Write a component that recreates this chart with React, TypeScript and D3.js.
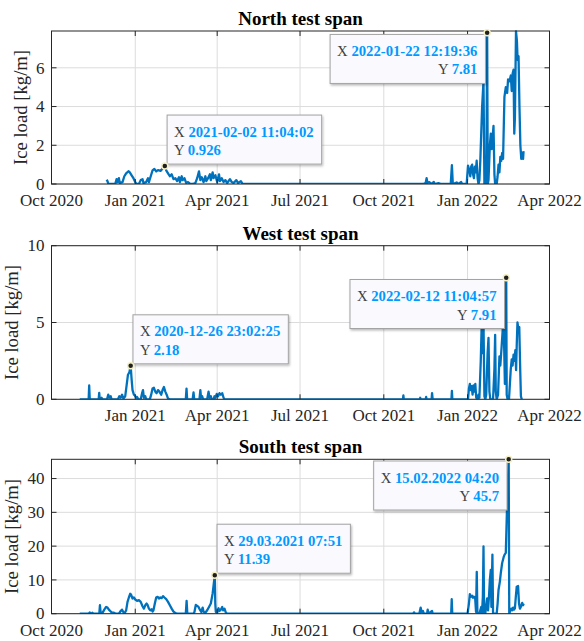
import React, { useEffect, useRef } from "react";
import * as d3 from "d3";

// Time axis: values are [days since 2020-10-01 00:00 UTC, ice load in kg/m]
const ORIGIN = "2020-10-01";
const X_DOMAIN = ["2020-10-01", "2022-04-01"];
const xTickDates = ["2020-10-01", "2021-01-01", "2021-04-01", "2021-07-01", "2021-10-01", "2022-01-01", "2022-04-01"];
const titles = ["North test span", "West test span", "South test span"];
const yAxisLabel = "Ice load [kg/m]";

const northYTicks = [0, 2, 4, 6];
const westYTicks = [0, 5, 10];
const southYTicks = [0, 10, 20, 30, 40];
const northYMax = 7.9;
const westYMax = 10;
const southYMax = 45.7;

const northLoad: [number, number][] = [
  [60.5, 0.22], [61.5, 0.15], [62.5, 0], [70, 0], [71.5, 0.25], [72.5, 0.1], [74, 0.3], [75, 0.05], [78, 0.1],
  [80, 0.4], [82, 0.55], [84.5, 0.66], [86, 0.6], [88, 0.45], [90, 0.3], [92, 0.1], [93, 0.02], [96, 0],
  [98, 0.2], [100, 0.25], [101, 0.05], [104, 0.1], [106, 0.3], [107, 0.1], [109, 0.4], [111, 0.7], [113, 0.78],
  [115, 0.65], [117, 0.72], [120, 0.68], [122, 0.8], [124.46, 0.926], [126, 0.7], [128, 0.55], [130, 0.4],
  [132, 0.5], [134, 0.25], [136, 0.3], [138, 0.15], [140, 0.35], [141, 0.1], [143, 0.4], [144, 0.2], [146, 0.3],
  [148, 0.05], [150, 0.1], [152, 0.02], [155, 0], [158, 0.05], [160, 0.3], [162, 0.65], [163.5, 0.2], [165, 0.35],
  [167, 0.1], [169, 0.4], [170, 0.15], [172, 0.3], [174, 0.5], [175, 0.2], [177, 0.6], [178, 0.3], [180, 0.45],
  [182, 0.1], [184, 0.5], [185, 0.15], [187, 0.3], [189, 0.1], [191, 0.2], [193, 0.05], [196, 0.25], [198, 0.1],
  [200, 0.05], [203, 0.2], [205, 0.05], [208, 0.15], [210, 0], [408, 0], [411, 0.05], [412, 0.3], [413, 0.05],
  [415, 0.1], [417, 0], [420, 0.1], [421, 0], [425, 0.05], [428, 0], [438.5, 0], [439.8, 0.97], [440.8, 0],
  [445, 0.08], [447, 0], [450, 0.1], [451, 0], [456, 0], [457.5, 0.95], [459, 0.7], [460, 0.4], [461, 0.9],
  [462, 1.0], [463, 0.5], [464, 0.3], [465, 0.9], [466, 0.6], [467, 1.2], [468, 0.3], [469, 0], [470, 0.2],
  [471, 1.2], [473, 4.0], [474.5, 5.3], [475.5, 0], [477.6, 0], [478.51, 7.81], [479.2, 0], [480, 0.2],
  [481.5, 2.0], [482.5, 2.6], [483.5, 1.8], [484.5, 2.4], [485.5, 3.0], [486.5, 0.5], [487.3, 0], [489, 0],
  [490, 0.4], [491, 1.0], [492, 0.6], [493, 1.4], [494, 1.2], [495, 1.6], [496, 1.3], [497.5, 4.5], [499, 5.0],
  [500.5, 4.7], [501.5, 5.4], [503, 5.3], [504.5, 5.6], [505.5, 4.8], [506.5, 5.7], [507.5, 5.9], [508.3, 2.6],
  [509, 3.4], [510.2, 7.88], [511.2, 7.4], [512, 6.4], [513, 6.6], [514, 4.0], [515, 2.0], [516, 1.3], [517, 1.6],
  [518, 1.3], [518.5, 1.7],
];

const westLoad: [number, number][] = [
  [31, 0], [40.8, 0], [41.4, 0.9], [42, 0], [51.8, 0], [52.4, 0.42], [53, 0], [55, 0.1], [56, 0], [61, 0],
  [62.3, 0.3], [63.5, 0.1], [65, 0.2], [66, 0], [73, 0], [74.5, 0.2], [76, 0.1], [77.5, 0.3], [79, 0.05],
  [81, 0.2], [82.5, 0.9], [84, 1.6], [85.5, 1.75], [86.96, 2.18], [88, 1.3], [89, 0.6], [90.5, 0.3], [91.5, 0.25],
  [93, 0.1], [94, 0.15], [95.5, 0], [98, 0], [99.5, 0.4], [100.5, 0.6], [101.5, 0.1], [103, 0.2], [104, 0],
  [108, 0], [109.5, 0.3], [111, 0.7], [112.5, 0.75], [114, 0.5], [115.5, 0.4], [117, 0.6], [118.5, 0.5],
  [120.5, 0.3], [122, 0.6], [123.5, 0.8], [125, 0.5], [126.5, 0.3], [128, 0.05], [130, 0], [147.5, 0],
  [148.3, 0.7], [149, 0], [155, 0], [156, 0.45], [156.8, 0], [162.5, 0], [163.5, 0.6], [164.3, 0.1], [165.5, 0.2],
  [166.5, 0], [171, 0], [172.5, 0.5], [173.5, 0.1], [175, 0.2], [176, 0], [178, 0], [179, 0.2], [180, 0.1],
  [181.5, 0.35], [183, 0.2], [184.5, 0.4], [186, 0.3], [187.5, 0.4], [189, 0.1], [190, 0], [386, 0],
  [386.5, 0.25], [387, 0], [404.5, 0], [405, 0.1], [405.5, 0], [411, 0], [411.5, 0.15], [412, 0], [417.5, 0],
  [418, 0.4], [418.7, 0], [439.3, 0], [439.8, 0.55], [440.3, 0], [457.5, 0], [458.5, 0.7], [459.5, 1.0],
  [460.5, 0.6], [461.5, 0.85], [462.5, 0.3], [463.5, 0.9], [464.5, 0.5], [465.5, 1.0], [466.5, 0.1], [468, 0],
  [469, 0.3], [470, 0.1], [471.5, 2.5], [472.5, 4.8], [473.5, 3.0], [474.5, 5.0], [475.5, 0.2], [476.5, 0],
  [477.5, 0.3], [479, 3.0], [480, 4.0], [481, 0.5], [482, 0], [485, 0], [486.5, 2.0], [487.3, 4.2], [488, 0.5],
  [489, 0], [490.5, 0.3], [492, 2.8], [493, 2.2], [494.5, 3.5], [496, 4.9], [497, 4.0], [498, 1.0], [498.8, 4.5],
  [499.46, 7.91], [500, 0.3], [501, 0], [502.5, 0], [503.5, 1.0], [504.5, 2.0], [505.5, 2.6], [506.5, 2.2],
  [507.5, 2.9], [508.5, 2.5], [509.5, 3.2], [510.3, 1.9], [511, 3.5], [511.8, 5.0], [512.8, 4.6], [513.8, 4.7],
  [514.8, 2.0], [515.6, 0.2], [516.5, 0],
];

const southLoad: [number, number][] = [
  [31, 0], [41, 0], [42, 0.4], [43, 0], [45, 0.3], [46, 0], [52.5, 0], [53.2, 2.5], [54, 0.3], [56, 0.2],
  [58, 1.2], [60, 2.0], [61.5, 1.8], [63, 1.2], [64.5, 0.8], [66, 0.4], [68, 0.3], [70, 0.1], [74, 0],
  [76, 0.8], [77.5, 1.2], [79, 0.4], [80.5, 0.2], [82, 1.0], [83.5, 3.5], [85, 4.8], [86.5, 5.9], [87.5, 5.6],
  [89, 4.5], [90.5, 4.8], [92, 4.2], [94, 3.8], [96, 4.0], [98, 3.5], [100, 2.2], [101.5, 1.5], [103, 2.5],
  [104.5, 3.0], [105.5, 2.6], [107, 1.5], [108.5, 1.0], [110, 1.3], [111, 0.6], [112, 1.0], [113.5, 3.0],
  [115, 4.8], [116.5, 5.0], [118, 4.5], [119.5, 4.8], [121, 4.6], [122.5, 5.2], [124, 4.8], [126, 4.3],
  [128, 3.5], [130, 2.5], [132, 1.5], [134, 0.6], [136, 0.2], [138, 0], [147.5, 0], [148.4, 3.8], [149.2, 0],
  [156, 0], [157, 0.5], [158.5, 2.6], [160, 2.3], [161.5, 2.0], [163, 1.2], [164.5, 0.5], [166, 1.8], [167, 0.6],
  [169, 0.3], [171, 1.0], [173, 2.0], [175, 3.0], [177, 6.0], [179.33, 11.39], [179.9, 3], [180.5, 0.5],
  [182, 0.3], [183.5, 1.6], [184.5, 0.8], [186, 1.2], [187.5, 2.0], [188.5, 1.0], [190, 1.5], [191.5, 0.3],
  [193, 0], [397, 0], [398.3, 0.4], [399, 0], [404, 0], [405.5, 1.8], [406.5, 0.5], [408, 0.8], [409, 0],
  [412.5, 0], [413.2, 1.2], [414, 0], [418, 0.8], [418.7, 0], [439, 0], [439.6, 4.3], [440.2, 0], [457, 0],
  [458.5, 3.0], [459.5, 5.8], [460.5, 5.0], [462, 5.3], [463, 4.7], [464, 5.0], [465.3, 4.8], [466.3, 0.5],
  [467.1, 12.4], [467.8, 0.2], [470, 0], [471, 1.0], [472, 2.0], [472.8, 0], [473.8, 5], [474.5, 19.9],
  [475.2, 0], [476.5, 0], [477.5, 2.5], [478.5, 4.5], [479.5, 1.0], [480.5, 5], [481.5, 10], [482.5, 13],
  [483.2, 2], [484.3, 17.5], [485, 0], [489, 0], [490, 3], [491, 7], [492.5, 9.5], [493.5, 12], [495, 15],
  [496.7, 16.8], [497.7, 17.5], [499, 18], [500.2, 30], [502.18, 45.7], [502.8, 0], [504, 1.0], [505, 1.5],
  [506, 1.0], [507, 1.8], [508, 1.2], [509, 1.6], [510, 5.0], [511, 8.0], [512.5, 8.2], [513.5, 3.0],
  [514.5, 1.5], [515.5, 2.0], [517, 3.2], [518, 2.5], [518.6, 3.0],
];

// Data tips: [days since origin, value, X text, Y text, placement]
const northTips: [number, number, string, string, string][] = [
  [124.46, 0.926, "2021-02-02 11:04:02", "0.926", "ne"],
  [478.51, 7.81, "2022-01-22 12:19:36", "7.81", "sw"],
];
const westTips: [number, number, string, string, string][] = [
  [86.96, 2.18, "2020-12-26 23:02:25", "2.18", "ne"],
  [499.46, 7.91, "2022-02-12 11:04:57", "7.91", "sw"],
];
const southTips: [number, number, string, string, string][] = [
  [179.33, 11.39, "29.03.2021 07:51", "11.39", "ne"],
  [502.18, 45.7, "15.02.2022 04:20", "45.7", "sw"],
];

const FONT = "'Liberation Serif', 'Times New Roman', serif";
const LINE_COLOR = "#0072BD";
const AX_COLOR = "#262626";
const GRID_COLOR = "#dcdcdc";

export default function App() {
  const ref = useRef<SVGSVGElement | null>(null);

  useEffect(() => {
    const svg = d3.select(ref.current);
    svg.selectAll("*").remove();
    const parse = d3.utcParse("%Y-%m-%d");
    const origin = parse(ORIGIN)!.getTime();
    const toDate = (d: number) => new Date(origin + d * 86400000);

    const x = d3.scaleUtc().domain(X_DOMAIN.map((s) => parse(s)!)).range([51.5, 549.5]);
    const fmt = d3.utcFormat("%b %Y");

    const defs = svg.append("defs");
    const f = defs.append("filter").attr("id", "tipShadow").attr("x", "-10%").attr("y", "-10%").attr("width", "130%").attr("height", "140%");
    f.append("feDropShadow").attr("dx", 1).attr("dy", 1.5).attr("stdDeviation", 1).attr("flood-color", "#000").attr("flood-opacity", 0.28);

    const panels = [
      { title: titles[0], data: northLoad, yMax: northYMax, yTicks: northYTicks, tips: northTips, top: 31, bottom: 184, firstX: true, labelX: 27 },
      { title: titles[1], data: westLoad, yMax: westYMax, yTicks: westYTicks, tips: westTips, top: 245.7, bottom: 399.3, firstX: false, labelX: 18 },
      { title: titles[2], data: southLoad, yMax: southYMax, yTicks: southYTicks, tips: southTips, top: 459.3, bottom: 613.7, firstX: true, labelX: 18 },
    ];
    const [x0, x1] = x.range();

    panels.forEach((p, i) => {
      const y = d3.scaleLinear().domain([0, p.yMax]).range([p.bottom, p.top]);
      const g = svg.append("g");
      const xt = xTickDates.map((s) => parse(s)!);

      // grid
      g.selectAll(".gx").data(xt).join("line")
        .attr("x1", (d) => x(d)).attr("x2", (d) => x(d)).attr("y1", p.top).attr("y2", p.bottom)
        .attr("stroke", GRID_COLOR).attr("stroke-width", 1);
      g.selectAll(".gy").data(p.yTicks).join("line")
        .attr("x1", x0).attr("x2", x1).attr("y1", (d) => y(d)).attr("y2", (d) => y(d))
        .attr("stroke", GRID_COLOR).attr("stroke-width", 1);

      // clip + line
      const clipId = `clip${i}`;
      defs.append("clipPath").attr("id", clipId).append("rect")
        .attr("x", x0).attr("y", p.top - 1).attr("width", x1 - x0).attr("height", p.bottom - p.top + 1);
      const line = d3.line<[number, number]>().x((d) => x(toDate(d[0]))).y((d) => y(d[1]));
      g.append("path").attr("d", line(p.data)).attr("fill", "none").attr("stroke", LINE_COLOR)
        .attr("stroke-width", 2.3).attr("stroke-linejoin", "round").attr("clip-path", `url(#${clipId})`);

      // box
      g.append("rect").attr("x", x0).attr("y", p.top).attr("width", x1 - x0).attr("height", p.bottom - p.top)
        .attr("fill", "none").attr("stroke", AX_COLOR).attr("stroke-width", 1);

      // ticks (inward)
      const tl = 5;
      xt.forEach((d) => {
        const xx = x(d);
        g.append("line").attr("x1", xx).attr("x2", xx).attr("y1", p.bottom).attr("y2", p.bottom - tl).attr("stroke", AX_COLOR);
        g.append("line").attr("x1", xx).attr("x2", xx).attr("y1", p.top).attr("y2", p.top + tl).attr("stroke", AX_COLOR);
      });
      p.yTicks.forEach((d) => {
        const yy = y(d);
        g.append("line").attr("x1", x0).attr("x2", x0 + tl).attr("y1", yy).attr("y2", yy).attr("stroke", AX_COLOR);
        g.append("line").attr("x1", x1).attr("x2", x1 - tl).attr("y1", yy).attr("y2", yy).attr("stroke", AX_COLOR);
      });

      // tick labels
      g.selectAll(".xl").data(p.firstX ? xt : xt.slice(1)).join("text")
        .attr("x", (d) => x(d)).attr("y", p.bottom + 22).attr("text-anchor", "middle")
        .attr("font-family", FONT).attr("font-size", 17).attr("fill", AX_COLOR).text((d) => fmt(d));
      g.selectAll(".yl").data(p.yTicks).join("text")
        .attr("x", x0 - 7).attr("y", (d) => y(d)).attr("dy", "0.34em").attr("text-anchor", "end")
        .attr("font-family", FONT).attr("font-size", 17).attr("fill", AX_COLOR).text((d) => String(d));

      // y label
      const cy = (p.top + p.bottom) / 2;
      g.append("text").attr("transform", `translate(${p.labelX},${cy}) rotate(-90)`).attr("text-anchor", "middle")
        .attr("font-family", FONT).attr("font-size", 18.7).attr("fill", AX_COLOR).text(yAxisLabel);

      // title
      g.append("text").attr("x", (x0 + x1) / 2).attr("y", p.top - 6).attr("text-anchor", "middle")
        .attr("font-family", FONT).attr("font-size", 19).attr("font-weight", "bold").attr("fill", "#000").text(p.title);

      // data tips
      p.tips.forEach((t) => {
        const px = x(toDate(t[0]));
        const py = y(t[1]);
        const tg = svg.append("g");
        const rect = tg.append("rect").attr("fill", "#fafafe").attr("stroke", "#a3a3a3").attr("stroke-width", 1)
          .attr("filter", "url(#tipShadow)");
        const rows = [["X ", t[2]], ["Y ", t[3]]];
        const texts = rows.map((r) => {
          const tx = tg.append("text").attr("font-family", FONT).attr("font-size", 14.7);
          tx.append("tspan").attr("fill", "#404040").text(r[0]);
          tx.append("tspan").attr("fill", "#0099FF").attr("font-weight", "bold").text(r[1]);
          return tx;
        });
        const widths = texts.map((tx) => (tx.node() as SVGTextElement).getComputedTextLength());
        const w = Math.max(...widths) + 15;
        const h = 49;
        let bx: number, by: number;
        if (t[4] === "ne") { bx = px + 2.3; by = py - 2 - h; } else { bx = px - 1.7 - w; by = py + 1.7; }
        rect.attr("x", bx).attr("y", by).attr("width", w).attr("height", h);
        texts.forEach((tx, k) => {
          const ty = by + (k === 0 ? 21.5 : 40);
          if (t[4] === "ne") tx.attr("x", bx + 7).attr("y", ty).attr("text-anchor", "start");
          else tx.attr("x", bx + w - 8).attr("y", ty).attr("text-anchor", "end");
        });
        tg.append("circle").attr("cx", px).attr("cy", py).attr("r", 3).attr("fill", "#1f1f1f")
          .attr("stroke", "#f4efc4").attr("stroke-width", 1.5);
      });
    });
  }, []);

  return (
    <svg ref={ref} width={584} height={641} viewBox="0 0 584 641"
      style={{ position: "absolute", left: 0, top: 0, background: "#fff", display: "block" }} />
  );
}
